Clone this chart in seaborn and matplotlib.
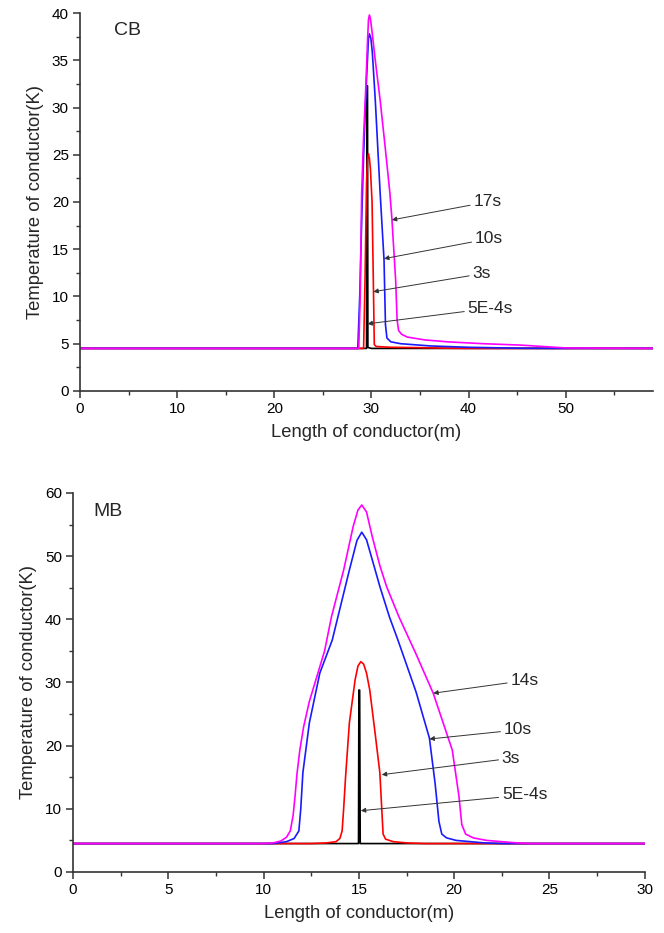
import seaborn as sns
import matplotlib.pyplot as plt
import pandas as pd
from matplotlib.ticker import MultipleLocator

# CB panel (top) - temperature profiles
cb_x_5e4 = [0, 29.5, 29.56, 29.6, 29.64, 30.0, 59]
cb_y_5e4 = [4.5, 4.5, 32.3, 32.3, 4.6, 4.5, 4.5]
cb_x_3s = [0, 29.2, 29.35, 29.5, 29.6, 29.7, 29.8, 29.9, 30.07, 30.2, 30.3, 30.5, 32, 35, 38, 40, 59]
cb_y_3s = [4.5, 4.5, 12, 22, 24.5, 25.1, 24.6, 23.5, 20, 11.7, 4.9, 4.7, 4.62, 4.58, 4.52, 4.5, 4.5]
cb_x_10s = [0, 28.6, 28.8, 29.0, 29.2, 29.5, 29.7, 29.8, 29.95, 30.1, 30.4, 30.9, 31.3, 31.45, 31.6, 32.0,
            33.0, 36.1, 40, 45.4, 50, 59]
cb_y_10s = [4.5, 4.5, 10, 18, 25, 33, 37.3, 37.8, 37.3, 35.8, 30.8, 21, 13.9, 7.0, 5.6, 5.2,
            5.0, 4.76, 4.62, 4.52, 4.5, 4.5]
cb_x_17s = [0, 28.7, 28.85, 29.0, 29.2, 29.4, 29.6, 29.7, 29.8, 29.9, 30.05, 30.4, 30.9, 31.4, 31.9, 32.1, 32.5,
            32.65, 32.8, 33.1, 33.7, 35.5, 37.8, 41.5, 45.4, 50.0, 59]
cb_y_17s = [4.5, 4.5, 10, 21, 27, 31.5, 37, 39.3, 39.8, 39.4, 38.2, 35, 30.8, 26, 21, 18.4, 11.7,
            7.5, 6.4, 6.0, 5.7, 5.4, 5.2, 5.0, 4.85, 4.55, 4.5]

# MB panel (bottom)
mb_x_5e4 = [0, 14.98, 15.0, 15.04, 15.07, 30]
mb_y_5e4 = [4.5, 4.5, 28.8, 28.8, 4.5, 4.5]
mb_x_3s = [0, 12.5, 13.3, 13.8, 14.0, 14.12, 14.2, 14.3, 14.5, 14.8, 14.95, 15.1, 15.25, 15.4, 15.57, 15.85,
           16.1, 16.2, 16.27, 16.4, 16.8, 17.5, 18.5, 30]
mb_y_3s = [4.5, 4.5, 4.6, 4.8, 5.3, 6.5, 10, 15, 23.6, 30.4, 32.6, 33.3, 32.9, 31.5, 28.8, 22,
           15.7, 10, 6.0, 5.2, 4.8, 4.6, 4.5, 4.5]
mb_x_10s = [0, 10.5, 11.2, 11.6, 11.85, 11.95, 12.06, 12.4, 12.95, 13.6, 13.9, 14.5, 14.9, 15.15, 15.4, 15.6,
            16.1, 16.6, 17.05, 18.0, 18.7, 19.0, 19.2, 19.35, 19.6, 20.1, 21.6, 22.5, 30]
mb_y_10s = [4.5, 4.5, 4.8, 5.3, 6.5, 10, 15.7, 23.6, 31.5, 36.7, 40.4, 47.8, 52.5, 53.8, 52.6, 50.5,
            45.2, 40.4, 36.7, 28.5, 21.2, 14, 8, 6.0, 5.4, 5.0, 4.6, 4.5, 4.5]
mb_x_14s = [0, 10.0, 10.5, 10.9, 11.2, 11.4, 11.55, 11.65, 11.75, 11.9, 12.1, 12.4, 12.8, 13.2, 13.56, 14.2,
            14.7, 14.95, 15.15, 15.4, 15.7, 16.1, 16.45, 17.1, 18.0, 18.9, 19.9, 20.25, 20.4, 20.6, 21.0,
            21.7, 23.3, 24, 30]
mb_y_14s = [4.5, 4.5, 4.6, 4.9, 5.5, 6.5, 9, 12, 15.5, 19.3, 23, 27, 31, 35, 40.4, 47.8,
            54.7, 57.3, 58.1, 57.0, 53.1, 48.5, 45.2, 40.4, 34.5, 28.3, 19.3, 12, 7.5, 6.0, 5.4,
            5.0, 4.6, 4.5, 4.5]

# labels: (text, text position, arrow tip) in data units
cb_labels = [('17s', (40.5, 20.0), (32.1, 18.1)),
             ('10s', (40.65, 16.1), (31.3, 14.0)),
             ('3s', (40.4, 12.4), (30.2, 10.5)),
             ('5E-4s', (39.9, 8.75), (29.6, 7.1))]
mb_labels = [('14s', (22.95, 30.3), (18.9, 28.3)),
             ('10s', (22.6, 22.5), (18.7, 21.05)),
             ('3s', (22.5, 18.0), (16.2, 15.4)),
             ('5E-4s', (22.5, 12.2), (15.1, 9.7))]

colors = {'5E-4s': 'black', '3s': '#ff0000', '10s': '#1a1aff', 'late': '#ff00ff'}

sns.set_theme(style='ticks')
plt.rcParams['font.family'] = ['Liberation Sans', 'DejaVu Sans']

fig = plt.figure(figsize=(6.64, 9.33), dpi=100)
ax1 = fig.add_axes([0.1205, 0.581, 0.863, 0.405])
ax2 = fig.add_axes([0.110, 0.0654, 0.861, 0.4062])


def draw(ax, series):
    for x, y, c in series:
        df = pd.DataFrame({'X': x, 'Y': y})
        sns.lineplot(data=df, x='X', y='Y', ax=ax, color=c, lw=1.2, sort=False, estimator=None)


draw(ax1, [(cb_x_5e4, cb_y_5e4, colors['5E-4s']), (cb_x_3s, cb_y_3s, colors['3s']),
           (cb_x_10s, cb_y_10s, colors['10s']), (cb_x_17s, cb_y_17s, colors['late'])])
draw(ax2, [(mb_x_5e4, mb_y_5e4, colors['5E-4s']), (mb_x_3s, mb_y_3s, colors['3s']),
           (mb_x_10s, mb_y_10s, colors['10s']), (mb_x_14s, mb_y_14s, colors['late'])])


def style(ax, xlim, ylim, xmaj, ymaj, name, name_pos, labels):
    ax.set_xlim(*xlim)
    ax.set_ylim(*ylim)
    ax.xaxis.set_major_locator(MultipleLocator(xmaj))
    ax.xaxis.set_minor_locator(MultipleLocator(xmaj / 2))
    ax.yaxis.set_major_locator(MultipleLocator(ymaj))
    ax.yaxis.set_minor_locator(MultipleLocator(ymaj / 2))
    sns.despine(ax=ax)
    for s in ['left', 'bottom']:
        ax.spines[s].set_color('#333333')
        ax.spines[s].set_linewidth(1.2)
    ax.tick_params(which='major', direction='out', length=5, width=1.1, color='#333333',
                   labelsize=11, labelcolor='black', pad=3)
    ax.tick_params(which='minor', direction='out', length=3, width=1.0, color='#333333')
    ax.set_xlabel('Length of conductor(m)', fontsize=13.2, labelpad=6)
    ax.set_ylabel('Temperature of conductor(K)', fontsize=13.2, labelpad=6)
    ax.text(name_pos[0], name_pos[1], name, transform=ax.transAxes, fontsize=14,
            ha='left', va='center')
    for txt, xy_text, xy_tip in labels:
        ax.annotate(txt, xy=xy_tip, xytext=xy_text, fontsize=12.5, ha='left', va='center',
                    arrowprops=dict(arrowstyle='-|>', color='#333333', lw=0.7,
                                    mutation_scale=7, shrinkA=0, shrinkB=0))


style(ax1, (0, 59), (0, 40), 10, 5, 'CB', (0.059, 0.955), cb_labels)
style(ax2, (0, 30), (0, 60), 5, 10, 'MB', (0.035, 0.95), mb_labels)

plt.savefig('out.png', dpi=100)
